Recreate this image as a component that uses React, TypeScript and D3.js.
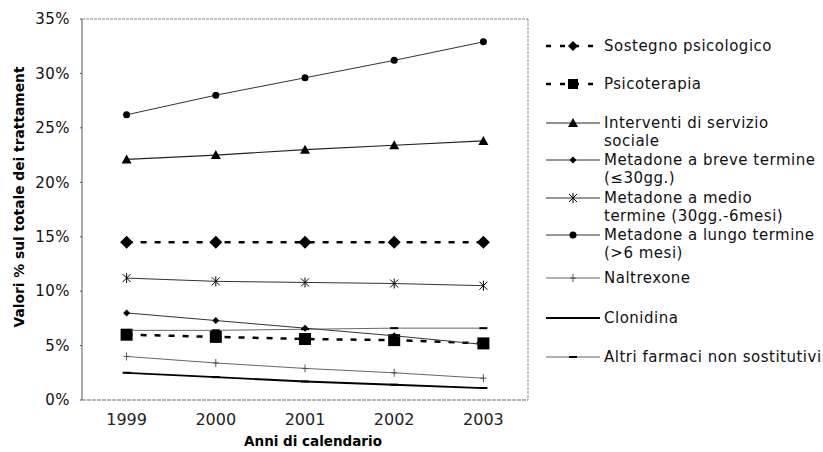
import React from "react";
import * as d3 from "d3";

const years = ["1999", "2000", "2001", "2002", "2003"];
const yTicks = [0, 5, 10, 15, 20, 25, 30, 35];

const sostegno = [14.5, 14.5, 14.5, 14.5, 14.5];
const psicoterapia = [6.0, 5.8, 5.6, 5.5, 5.2];
const interventi = [22.1, 22.5, 23.0, 23.4, 23.8];
const metBreve = [8.0, 7.3, 6.6, 5.9, 5.1];
const metMedio = [11.2, 10.9, 10.8, 10.7, 10.5];
const metLungo = [26.2, 28.0, 29.6, 31.2, 32.9];
const naltrexone = [4.0, 3.4, 2.9, 2.5, 2.0];
const clonidina = [2.5, 2.1, 1.7, 1.4, 1.1];
const altri = [6.4, 6.4, 6.5, 6.6, 6.6];

type S = { name: string[]; values: number[]; marker: string; dashed: boolean; width: number; color: string; ly: number };

const series: S[] = [
  { name: ["Sostegno psicologico"], values: sostegno, marker: "bigdiamond", dashed: true, width: 2.5, color: "#000", ly: 46 },
  { name: ["Psicoterapia"], values: psicoterapia, marker: "square", dashed: true, width: 2.5, color: "#000", ly: 84 },
  { name: ["Interventi di servizio", "sociale"], values: interventi, marker: "triangle", dashed: false, width: 1.2, color: "#222", ly: 123 },
  { name: ["Metadone a breve termine", "(≤30gg.)"], values: metBreve, marker: "diamond", dashed: false, width: 1, color: "#333", ly: 160 },
  { name: ["Metadone a medio", "termine (30gg.-6mesi)"], values: metMedio, marker: "star", dashed: false, width: 1, color: "#333", ly: 198 },
  { name: ["Metadone a lungo termine", "(>6 mesi)"], values: metLungo, marker: "circle", dashed: false, width: 1, color: "#333", ly: 235 },
  { name: ["Naltrexone"], values: naltrexone, marker: "plus", dashed: false, width: 0.9, color: "#555", ly: 278 },
  { name: ["Clonidina"], values: clonidina, marker: "dash", dashed: false, width: 1.8, color: "#000", ly: 318 },
  { name: ["Altri farmaci non sostitutivi"], values: altri, marker: "dash", dashed: false, width: 0.9, color: "#555", ly: 357 },
];

const L = 82, R = 528, T = 19, B = 400;

function Marker({ type, x, y }: { type: string; x: number; y: number }) {
  switch (type) {
    case "bigdiamond":
      return <path d={`M${x},${y - 6.5}L${x + 6.5},${y}L${x},${y + 6.5}L${x - 6.5},${y}Z`} fill="#000" />;
    case "legdiamond":
      return <path d={`M${x},${y - 5}L${x + 5},${y}L${x},${y + 5}L${x - 5},${y}Z`} fill="#000" />;
    case "square":
      return <rect x={x - 6} y={y - 6} width={12} height={12} fill="#000" />;
    case "legsquare":
      return <rect x={x - 5} y={y - 5} width={10} height={10} fill="#000" />;
    case "triangle":
      return <path d={`M${x},${y - 5}L${x + 5},${y + 4}L${x - 5},${y + 4}Z`} fill="#000" />;
    case "diamond":
      return <path d={`M${x},${y - 3.5}L${x + 3.5},${y}L${x},${y + 3.5}L${x - 3.5},${y}Z`} fill="#000" />;
    case "circle":
      return <circle cx={x} cy={y} r={3.5} fill="#000" />;
    case "star":
      return (
        <g stroke="#000" strokeWidth={1}>
          <line x1={x - 4} y1={y - 4} x2={x + 4} y2={y + 4} />
          <line x1={x - 4} y1={y + 4} x2={x + 4} y2={y - 4} />
          <line x1={x} y1={y - 5} x2={x} y2={y + 5} />
        </g>
      );
    case "plus":
      return (
        <g stroke="#444" strokeWidth={0.9}>
          <line x1={x} y1={y - 4} x2={x} y2={y + 4} />
          <line x1={x - 3} y1={y} x2={x + 3} y2={y} />
        </g>
      );
    case "dash":
      return <line x1={x - 4} y1={y} x2={x + 4} y2={y} stroke="#000" strokeWidth={2} />;
    default:
      return null;
  }
}

export default function App() {
  const x = d3.scaleBand().domain(years).range([L, R]);
  const y = d3.scaleLinear().domain([0, 35]).range([B, T]);
  const cx = (i: number) => (x(years[i]) as number) + x.bandwidth() / 2;
  const line = d3
    .line<number>()
    .x((_, i) => cx(i))
    .y((v) => y(v));
  const font = "'DejaVu Sans', Verdana, sans-serif";

  return (
    <svg width={823} height={452} style={{ position: "absolute", left: 0, top: 0 }} fontFamily={font}>
      <rect width={823} height={452} fill="#fff" />
      <line x1={L} y1={T} x2={R} y2={T} stroke="#888" strokeWidth={1} strokeDasharray="3,1" />
      <line x1={R} y1={T} x2={R} y2={B} stroke="#888" strokeWidth={1} strokeDasharray="3,1" />
      <line x1={L} y1={B} x2={R} y2={B} stroke="#666" strokeWidth={1} strokeDasharray="4,1" />
      <line x1={L} y1={T} x2={L} y2={B} stroke="#555" strokeWidth={1} />
      {yTicks.map((t) => (
        <g key={t}>
          <line x1={L - 2} x2={L} y1={y(t)} y2={y(t)} stroke="#555" />
          <text x={70} y={y(t)} dy="0.35em" textAnchor="end" fontSize={15} letterSpacing={0.5} fill="#111">
            {t}%
          </text>
        </g>
      ))}
      {years.map((yr, i) => (
        <text key={yr} x={cx(i)} y={425} textAnchor="middle" fontSize={16} fill="#222">
          {yr}
        </text>
      ))}
      <text x={313} y={446} textAnchor="middle" fontSize={13.5} fontWeight="bold" fill="#000">
        Anni di calendario
      </text>
      <text
        transform={`translate(24,197) rotate(-90)`}
        textAnchor="middle"
        fontSize={13.8}
        fontWeight="bold"
        fill="#000"
      >
        Valori % sul totale dei trattament
      </text>
      {series.map((s, si) => (
        <g key={si}>
          <path
            d={line(s.values) as string}
            fill="none"
            stroke={s.color}
            strokeWidth={s.width}
            strokeDasharray={s.dashed ? "6,8" : undefined}
          />
          {s.values.map((v, i) => (
            <Marker key={i} type={s.marker} x={cx(i)} y={y(v)} />
          ))}
        </g>
      ))}
      {series.map((s, si) => (
        <g key={"l" + si}>
          <line
            x1={546}
            x2={600}
            y1={s.ly}
            y2={s.ly}
            stroke={s.color}
            strokeWidth={s.width}
            strokeDasharray={s.dashed ? "5,9" : undefined}
          />
          <Marker
            type={s.marker === "bigdiamond" ? "legdiamond" : s.marker === "square" ? "legsquare" : s.marker}
            x={573}
            y={s.ly}
          />
          {s.name.map((n, ni) => (
            <text key={ni} x={604} y={s.ly + ni * 18} dy="0.35em" fontSize={15} letterSpacing={0.5} fill="#111">
              {n}
            </text>
          ))}
        </g>
      ))}
    </svg>
  );
}
